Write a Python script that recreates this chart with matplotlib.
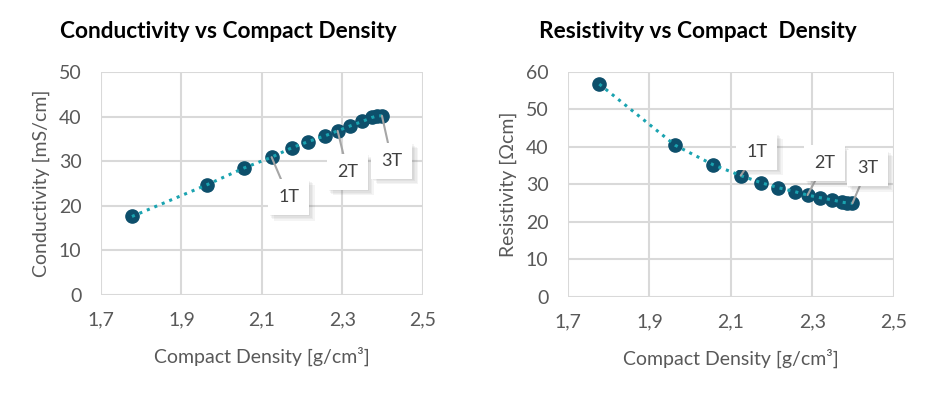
import matplotlib
matplotlib.use('Agg')
import matplotlib.pyplot as plt
import matplotlib.patheffects as pe
from matplotlib.ticker import FuncFormatter

# data
density = [1.777, 1.963, 2.056, 2.124, 2.174, 2.215, 2.257, 2.288, 2.319, 2.349, 2.373, 2.385, 2.398]
conductivity = [17.6, 24.7, 28.5, 30.9, 33.0, 34.4, 35.7, 36.8, 37.9, 38.9, 39.8, 40.1, 40.2]
resistivity = [56.7, 40.4, 35.2, 32.3, 30.4, 29.1, 28.0, 27.1, 26.4, 25.8, 25.2, 25.0, 24.9]
labels = {3: '1T', 7: '2T', 12: '3T'}

plt.rcParams['font.family'] = ['Lato', 'DejaVu Sans']

MARKER = '#0d4f6b'
LINE = '#1aa3b0'
GRID = '#d9d9d9'
TEXT = '#595959'


def comma(v, pos):
    return ('%.1f' % v).replace('.', ',')


def makePanel(ax, ys, ymax, ylabel, offsets):
    ax.plot(density, ys, 'o', color=MARKER, markersize=9.5, zorder=3)
    ax.plot(density, ys, ':', color=LINE, linewidth=2.2, zorder=4)
    ax.set_xlim(1.7, 2.5)
    ax.set_ylim(0, ymax)
    ax.set_xticks([1.7, 1.9, 2.1, 2.3, 2.5])
    ax.set_yticks(range(0, ymax + 1, 10))
    ax.xaxis.set_major_formatter(FuncFormatter(comma))
    ax.grid(True, color=GRID, linewidth=1.5)
    ax.set_axisbelow(True)
    for s in ax.spines.values():
        s.set_visible(False)
    ax.tick_params(length=0, labelsize=14, colors=TEXT)
    ax.tick_params(axis='x', pad=12)
    ax.tick_params(axis='y', pad=14)
    ax.set_xlabel('Compact Density [g/cm³]', fontsize=14, color=TEXT, labelpad=13)
    ax.set_ylabel(ylabel, fontsize=14, color=TEXT, labelpad=6)
    # soft drop shadow under the label boxes
    shadow = [pe.SimplePatchShadow(offset=(k, -k), alpha=0.06) for k in (4, 3, 2, 1)]
    for i, lab in labels.items():
        t = ax.annotate(lab, xy=(density[i], ys[i]), xytext=offsets[lab],
                        textcoords='offset pixels', ha='center', va='center',
                        fontsize=13, color='#404040', zorder=5,
                        bbox=dict(boxstyle='square,pad=0.55', fc='white', ec='none'),
                        arrowprops=dict(arrowstyle='-', color='#a6a6a6', lw=1.5,
                                        shrinkA=0, shrinkB=0))
        t.get_bbox_patch().set_path_effects(shadow + [pe.Normal()])


fig = plt.figure(figsize=(9.28, 3.94), dpi=100)
ax1 = fig.add_axes([0.1088, 0.2513, 0.347, 0.566])
ax2 = fig.add_axes([0.612, 0.247, 0.3513, 0.571])

makePanel(ax1, conductivity, 50, 'Conductivity [mS/cm]',
          {'1T': (17, -40), '2T': (10, -41), '3T': (10, -45)})
makePanel(ax2, resistivity, 60, 'Resistivity [Ωcm]',
          {'1T': (16, 24), '2T': (17, 32), '3T': (15, 35)})

fig.text(228 / 928, 1 - 31 / 394, 'Conductivity vs Compact Density', fontsize=16.3,
         fontweight='bold', ha='center', va='center')
fig.text(698 / 928, 1 - 31 / 394, 'Resistivity vs Compact  Density', fontsize=16.3,
         fontweight='bold', ha='center', va='center')

fig.savefig('out.png', dpi=100, facecolor='white')
